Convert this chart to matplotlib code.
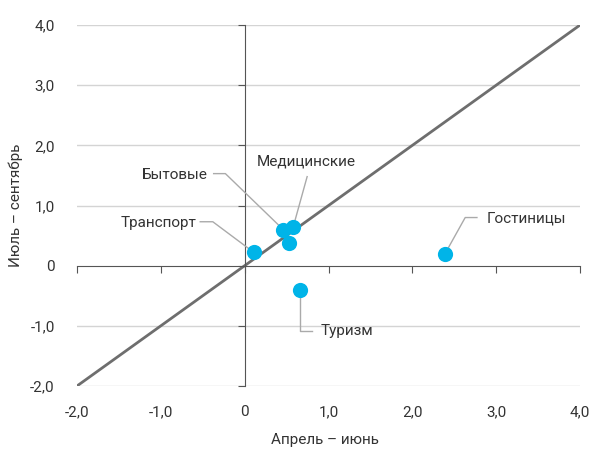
import matplotlib
matplotlib.use("Agg")
import matplotlib.pyplot as plt

plt.rcParams['font.family'] = ['Roboto', 'DejaVu Sans']

# values (April-June vs July-September)
names = ["Транспорт", "Бытовые", "Медицинские", "", "Гостиницы", "Туризм"]
x_vals = [0.11, 0.46, 0.58, 0.53, 2.39, 0.66]
y_vals = [0.22, 0.60, 0.65, 0.37, 0.20, -0.40]

ticks = [-2, -1, 0, 1, 2, 3, 4]
tick_labels = ["-2,0", "-1,0", "0", "1,0", "2,0", "3,0", "4,0"]

txt = "#333333"

fig = plt.figure(figsize=(5.93, 4.49), dpi=100)
ax = fig.add_axes([0.1298, 0.1403, 0.8484, 0.8040])
ax.set_xlim(-2, 4)
ax.set_ylim(-2, 4)

for t in ticks:
    if t != 0:
        ax.axhline(t, color="#d4d4d4", lw=1, zorder=0)

ax.plot([-2, 4], [-2, 4], color="#6e6e6e", lw=2, zorder=2)

# axes through zero with tick marks
for s in ["top", "right"]:
    ax.spines[s].set_visible(False)
ax.spines['bottom'].set_position(('data', 0))
ax.spines['left'].set_position(('data', 0))
ax.spines['bottom'].set_color("#555555")
ax.spines['left'].set_color("#555555")
ax.set_xticks(ticks)
ax.set_yticks(ticks)
ax.tick_params(axis='both', direction='out', length=5, color="#555555",
               labelbottom=False, labelleft=False)

# tick labels at the outer edges
sx = ax.secondary_xaxis('bottom')
sx.set_xticks(ticks, tick_labels)
sx.spines['bottom'].set_visible(False)
sx.tick_params(length=0, pad=14, labelsize=11, labelcolor=txt)
sy = ax.secondary_yaxis('left')
sy.set_yticks(ticks, tick_labels)
sy.spines['left'].set_visible(False)
sy.tick_params(length=0, pad=16, labelsize=11, labelcolor=txt)

fig.text(325 / 593, 1 - 440 / 449, "Апрель – июнь", fontsize=11, color=txt,
         ha='center', va='center')
fig.text(16 / 593, 1 - 205 / 449, "Июль – сентябрь", fontsize=11, color=txt,
         ha='center', va='center', rotation=90)

# leader lines and labels
lc = "#aaaaaa"
leaders = {
    "Транспорт": ([-0.53, -0.38], [0.73, 0.73], (-0.57, 0.71), 'right'),
    "Бытовые": ([-0.37, -0.23], [1.53, 1.53], (-0.44, 1.51), 'right'),
    "Медицинские": ([0.745], [1.48], (0.73, 1.73), 'center'),
    "Гостиницы": ([2.77, 2.63], [0.80, 0.80], (2.88, 0.78), 'left'),
    "Туризм": ([0.66, 0.80], [-1.08, -1.08], (0.90, -1.08), 'left'),
}
for n, px, py in zip(names, x_vals, y_vals):
    if n not in leaders:
        continue
    lx, ly, pos, ha = leaders[n]
    if n == "Туризм":
        ax.plot([px] + lx, [py] + ly, color=lc, lw=1, zorder=3)
    else:
        ax.plot(lx + [px], ly + [py], color=lc, lw=1, zorder=3)
    ax.text(pos[0], pos[1], n, ha=ha, va='center', fontsize=11, color=txt)

ax.scatter(x_vals, y_vals, s=120, color="#00b4e8", zorder=4, linewidths=0)

fig.savefig("out.png", dpi=100)
